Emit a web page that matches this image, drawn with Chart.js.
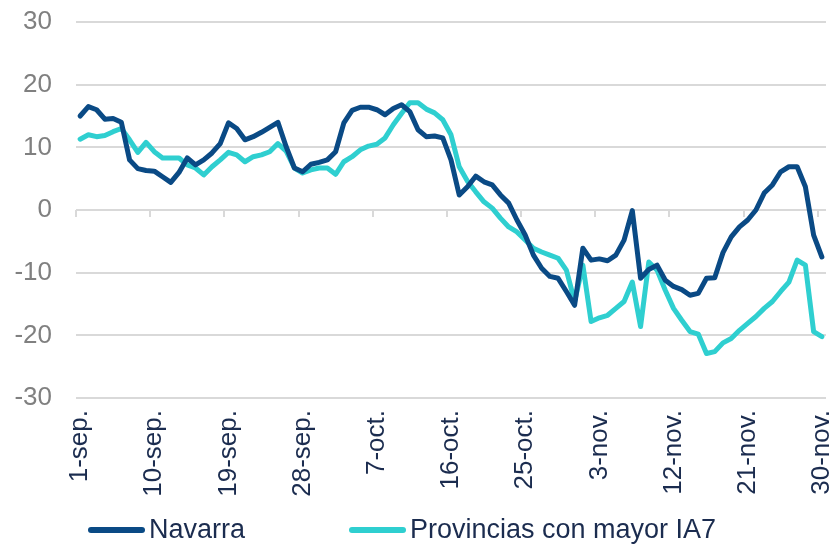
<!DOCTYPE html>
<html><head><meta charset="utf-8">
<script src="https://cdn.jsdelivr.net/npm/chart.js@4/dist/chart.umd.min.js"></script>
<style>html,body{margin:0;padding:0;background:#fff;}#wrap{width:834px;height:550px;}</style>
</head><body><div id="wrap"><canvas id="c" width="834" height="550"></canvas></div>
<script>
// Categories: daily dates 1-sep to 30-nov
const monthDays = [['sep', 30], ['oct', 31], ['nov', 30]];
const categories = [];
for (const [m, n] of monthDays) for (let d = 1; d <= n; d++) categories.push(d + '-' + m + '.');

const seriesNames = ['Navarra', 'Provincias con mayor IA7'];

const navarra = [
  15.0,16.5,16.0,14.5,14.6,14.0,8.0,6.6,6.3,6.2,
  5.3,4.4,6.0,8.3,7.2,8.0,9.1,10.6,13.9,13.0,
  11.2,11.7,12.4,13.2,14.0,10.1,6.7,6.1,7.3,7.6,
  8.0,9.3,13.9,15.9,16.4,16.4,16.0,15.2,16.2,16.8,
  15.7,12.8,11.7,11.8,11.5,8.0,2.4,3.7,5.4,4.5,
  4.0,2.4,1.1,-1.6,-4.0,-7.2,-9.3,-10.6,-10.9,-13.0,
  -15.2,-6.1,-8.0,-7.8,-8.1,-7.2,-4.8,-0.1,-10.9,-9.5,
  -8.8,-11.2,-12.2,-12.7,-13.6,-13.3,-10.9,-10.8,-6.8,-4.3,
  -2.7,-1.6,0.0,2.7,4.0,6.1,6.9,6.9,3.7,-4.0,-7.5
];

const provincias = [
  11.3,12.0,11.7,11.9,12.5,13.0,11.2,9.2,10.8,9.3,
  8.3,8.3,8.3,7.2,6.7,5.6,6.9,8.0,9.2,8.8,
  7.7,8.5,8.8,9.3,10.6,9.4,6.7,5.9,6.4,6.7,
  6.7,5.7,7.7,8.5,9.6,10.2,10.5,11.5,13.6,15.4,
  17.1,17.1,16.1,15.5,14.4,12.0,6.9,4.6,2.9,1.3,
  0.3,-1.3,-2.7,-3.5,-4.8,-6.1,-6.7,-7.2,-7.7,-9.6,
  -14.6,-8.8,-17.8,-17.2,-16.8,-15.7,-14.6,-11.5,-18.6,-8.3,
  -9.6,-12.8,-15.7,-17.6,-19.4,-19.8,-22.9,-22.6,-21.2,-20.5,
  -19.2,-18.1,-17.0,-15.7,-14.6,-13.0,-11.5,-8.0,-8.8,-19.4,-20.2
];

const yMin = -30, yMax = 30, yStep = 10;
const labelEvery = 9;

const FONT = 'Arial, "Liberation Sans", sans-serif';
const COLORS = ['#0A4A85', '#2FCFD0'];
const GRID = '#D9D9D9';
const TEXT_DARK = '#1B2C4F';

// Small tick marks on the category axis, which crosses at y = 0
const zeroAxisTicks = {
  id: 'zeroAxisTicks',
  beforeDatasetsDraw(chart) {
    const xs = chart.scales.x, ys = chart.scales.y, ctx = chart.ctx;
    const half = (xs.getPixelForValue(1) - xs.getPixelForValue(0)) / 2;
    const y0 = ys.getPixelForValue(0);
    ctx.save();
    ctx.strokeStyle = GRID;
    ctx.lineWidth = 2;
    for (let i = 0; i < categories.length; i += labelEvery) {
      const px = Math.round(xs.getPixelForValue(i) - half);
      ctx.beginPath();
      ctx.moveTo(px, y0);
      ctx.lineTo(px, y0 + 7);
      ctx.stroke();
    }
    ctx.restore();
  }
};

// Legend drawn beneath the axis labels
const bottomLegend = {
  id: 'bottomLegend',
  afterDraw(chart) {
    const ctx = chart.ctx;
    const slots = [{x: 88, w: 57}, {x: 349, w: 57}];
    const yc = 530;
    ctx.save();
    ctx.font = '27px ' + FONT;
    ctx.textBaseline = 'middle';
    ctx.textAlign = 'left';
    chart.data.datasets.forEach((ds, i) => {
      const s = slots[i];
      ctx.strokeStyle = ds.borderColor;
      ctx.lineWidth = 6;
      ctx.lineCap = 'round';
      ctx.beginPath();
      ctx.moveTo(s.x + 3, yc);
      ctx.lineTo(s.x + s.w - 3, yc);
      ctx.stroke();
      ctx.fillStyle = TEXT_DARK;
      ctx.fillText(ds.label, s.x + s.w + 4, yc + 1);
    });
    ctx.restore();
  }
};

const mkDs = (label, data, color) => ({
  label, data, borderColor: color, backgroundColor: color,
  borderWidth: 5, pointRadius: 0, pointHoverRadius: 0, tension: 0, fill: false,
  borderJoinStyle: 'round', borderCapStyle: 'round'
});

new Chart(document.getElementById('c'), {
  type: 'line',
  data: {
    labels: categories,
    datasets: [
      mkDs(seriesNames[0], navarra, COLORS[0]),
      mkDs(seriesNames[1], provincias, COLORS[1])
    ]
  },
  options: {
    responsive: false,
    animation: false,
    layout: {padding: {left: 0, right: 8, top: 22, bottom: 42}},
    plugins: {legend: {display: false}, tooltip: {enabled: false}},
    scales: {
      x: {
        type: 'category',
        offset: true,
        grid: {display: false},
        border: {display: false},
        ticks: {
          autoSkip: false, maxRotation: 90, minRotation: 90, padding: 4,
          color: TEXT_DARK, font: {size: 26, family: FONT},
          callback: (v, i) => (i % labelEvery === 0 ? categories[i] : '')
        },
        afterFit: (s) => { s.height = 110; s.paddingLeft = 0; s.paddingRight = 0; }
      },
      y: {
        min: yMin, max: yMax,
        grid: {color: GRID, lineWidth: 2, drawTicks: false},
        border: {display: false},
        ticks: {stepSize: yStep, padding: 24, color: '#808080', font: {size: 26, family: FONT}},
        afterFit: (s) => { s.width = 76; s.paddingTop = 0; s.paddingBottom = 0; }
      }
    }
  },
  plugins: [zeroAxisTicks, bottomLegend]
});
</script>
</body></html>
